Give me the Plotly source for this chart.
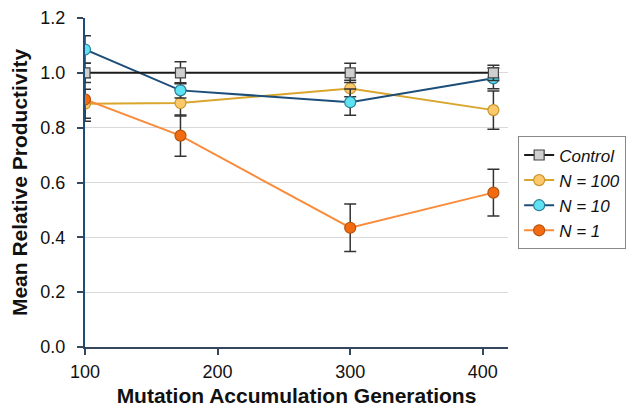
import plotly.graph_objects as go

generations = [100, 172, 300, 408]
x_ticks = [100, 200, 300, 400]
y_ticks = [0.0, 0.2, 0.4, 0.6, 0.8, 1.0, 1.2]

control = [1.0, 1.0, 1.0, 1.0]
control_err = [0.035, 0.04, 0.035, 0.028]
n100 = [0.887, 0.89, 0.943, 0.864]
n100_err = [0.053, 0.047, 0.03, 0.07]
n10 = [1.085, 0.936, 0.893, 0.98]
n10_err = [0.05, 0.028, 0.048, 0.038]
n1 = [0.903, 0.771, 0.435, 0.563]
n1_err = [0.08, 0.075, 0.087, 0.085]

series = [
    # name, y, err, line colour, fill, outline, symbol, rank
    ("N = 100", n100, n100_err, "#d9a52b", "#fbc96b", "#c8952a", "circle", 2),
    ("N = 1", n1, n1_err, "#f98c3a", "#f26b10", "#b5540f", "circle", 4),
    ("N = 10", n10, n10_err, "#1d4e7a", "#5fe3f2", "#2a7f97", "circle", 3),
    ("Control", control, control_err, "#1a1a1a", "#cfcfcf", "#444444", "square", 1),
]

fig = go.Figure()
for name, y, err, lc, fc, oc, sym, rank in series:
    fig.add_trace(go.Scatter(
        x=generations, y=y, name=name, mode="lines+markers",
        legendrank=rank,
        line=dict(color=lc, width=2),
        marker=dict(symbol=sym, size=11 if sym == "circle" else 10, color=fc,
                    line=dict(color=oc, width=1.2)),
        error_y=dict(type="data", array=err, visible=True, color="#333333",
                     thickness=1.5, width=6),
    ))

# the page body has an 8px margin, so the figure is placed at (8, 8)
fig.update_layout(
    width=637, height=411,
    margin=dict(l=77, r=137, t=10, b=72, autoexpand=False),
    paper_bgcolor="white", plot_bgcolor="white",
    font=dict(family="Arial, Liberation Sans, sans-serif", size=18, color="#111111"),
    legend=dict(
        x=1.024, y=0.64, xanchor="left", yanchor="top",
        bgcolor="white", bordercolor="#888888", borderwidth=1,
        font=dict(family="Liberation Sans, Arial, sans-serif", size=17, color="#111111",
                  style="italic"),
        traceorder="normal",
    ),
    xaxis=dict(
        range=[100, 419], tickvals=x_ticks, ticktext=[str(v) for v in x_ticks],
        showgrid=False, zeroline=False, showline=True, linecolor="#34475c", linewidth=2,
        ticks="outside", ticklen=6, tickcolor="#34475c", tickwidth=1.5,
        ticklabelstandoff=1, automargin=False,
        title=dict(text="<b>Mutation Accumulation Generations</b>", font=dict(size=21), standoff=8),
    ),
    yaxis=dict(
        range=[0, 1.2], tickvals=y_ticks, ticktext=[f"{v:.1f}" for v in y_ticks],
        showgrid=True, gridcolor="#d9d9d9", gridwidth=1, zeroline=False,
        showline=True, linecolor="#1d4e7a", linewidth=2,
        ticks="outside", ticklen=6, tickcolor="#34475c", tickwidth=1.5,
        ticklabelstandoff=8, automargin=False,
        title=dict(text="<b>Mean Relative Productivity</b>", font=dict(size=21), standoff=17),
    ),
)

fig.write_html("out.html")
